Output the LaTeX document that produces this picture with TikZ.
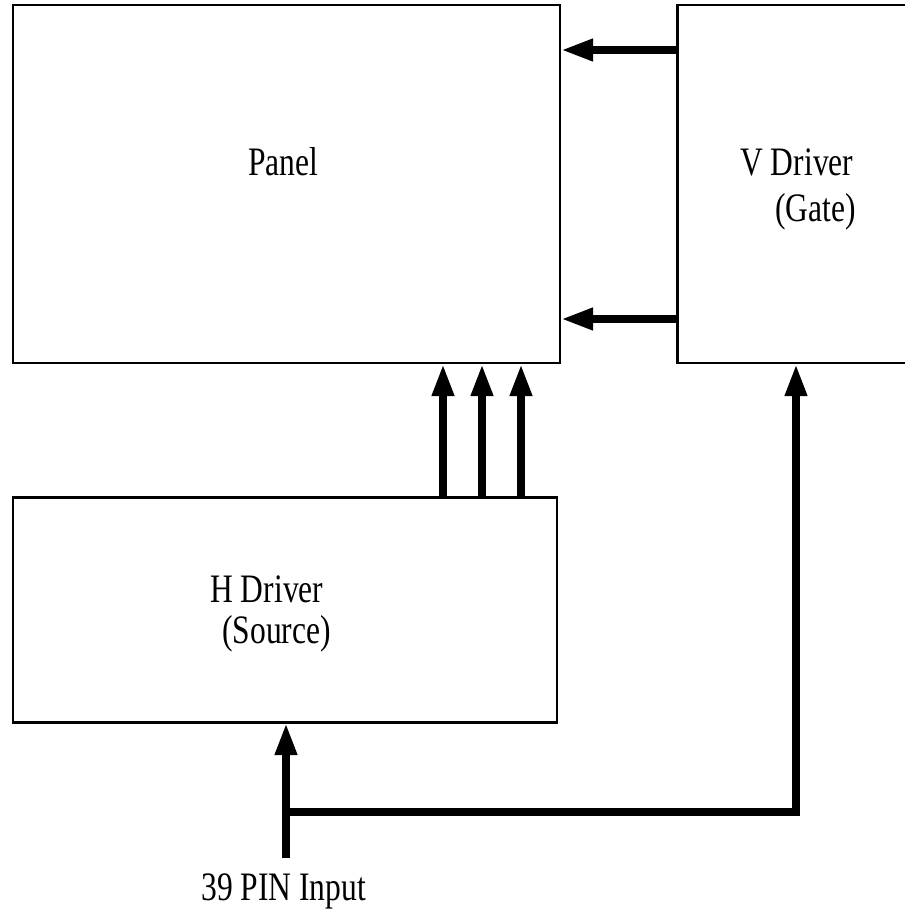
\documentclass[tikz,border=0pt]{standalone}
\usepackage{fontspec}
\setmainfont{Liberation Serif}[FakeStretch=0.78]
\usepackage{tikz}
\usetikzlibrary{arrows.meta, positioning, fit, calc}

\begin{document}
\begin{tikzpicture}[
  x=0.02cm, y=-0.02cm,
  box/.style={rectangle, draw=black, line width=1.7pt, inner sep=0pt},
  lbl/.style={anchor=base west, inner sep=0pt, font=\fontsize{23}{27}\selectfont},
  arrow/.style={line width=4pt, -{Triangle[length=18pt, width=12pt]}},
  wire/.style={line width=4.4pt}
]
\useasboundingbox (0,0) rectangle (905,913);

% Blocks
\node[box, fit={(13,5) (560,363)}] (panel) {};
\node[box, fit={(677,5) (960,363)}] (vdrv) {};
\node[box, fit={(13,497) (557,722)}] (hdrv) {};

% Labels
\node[lbl] (paneltxt) at (248,175) {Panel};
\node[lbl] (vdrvtxt) at (740,175) {V Driver};
\node[lbl] (gatetxt) at (775,221) {(Gate)};
\node[lbl] (hdrvtxt) at (210,602) {H Driver};
\node[lbl] (srctxt) at (222,643) {(Source)};
\node[lbl] (pintxt) at (201,900) {39 PIN Input};

% Input
\coordinate (pin) at (286,858);
\coordinate (split) at (286,812);

% Edges
\draw[arrow] (vdrv.west |- 0,50) -- (panel.east |- 0,50);
\draw[arrow] (vdrv.west |- 0,319) -- (panel.east |- 0,319);
\draw[arrow] (hdrv.north -| 443,0) -- (panel.south -| 443,0);
\draw[arrow] (hdrv.north -| 482,0) -- (panel.south -| 482,0);
\draw[arrow] (hdrv.north -| 521,0) -- (panel.south -| 521,0);
\draw[arrow] (pin) -- (hdrv.south -| pin);
\draw[wire] (split) -| ($(vdrv.south -| 796,0)+(0,60)$);
\draw[arrow] (split -| 796,0) -- (vdrv.south -| 796,0);
\end{tikzpicture}
\end{document}
